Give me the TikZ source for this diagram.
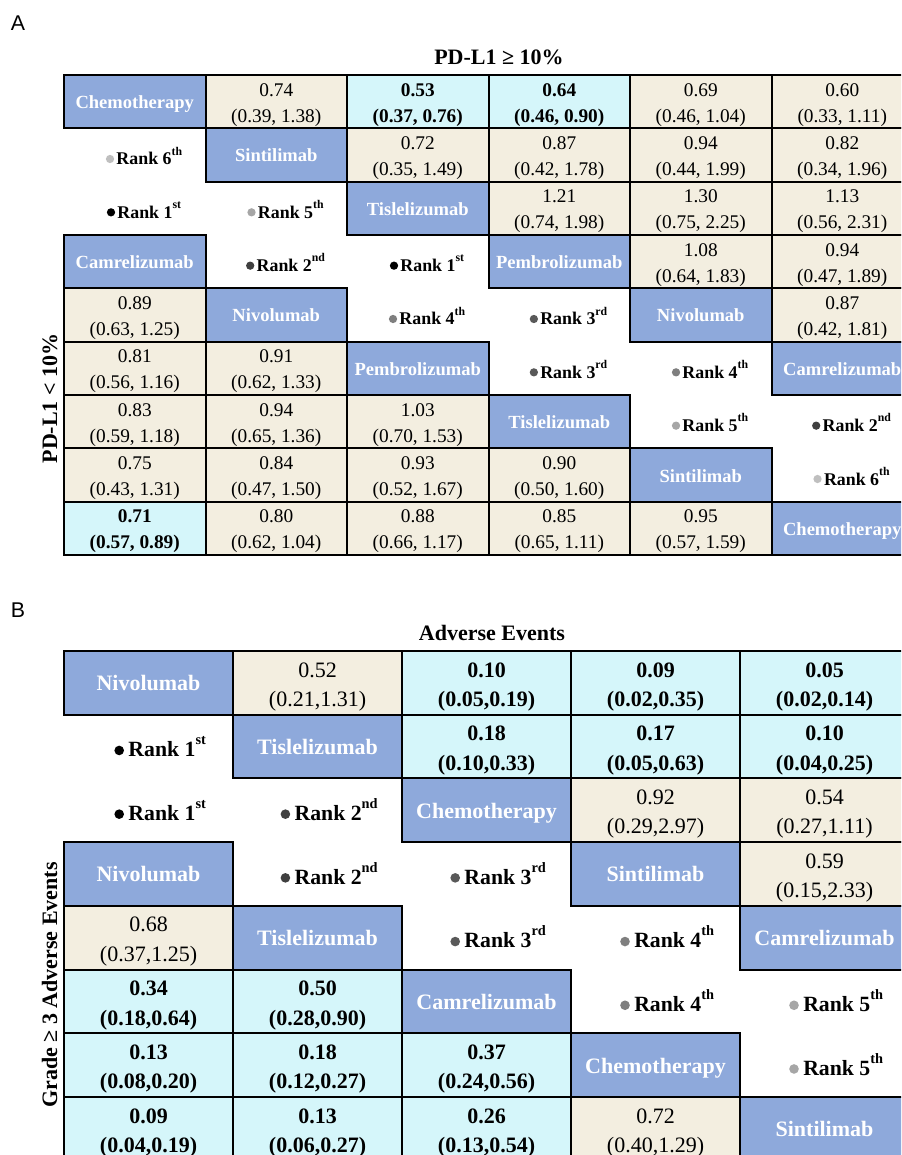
\documentclass[tikz,border=0pt]{standalone}
\usepackage{graphicx}
\usepackage{fontspec}
\setmainfont{Liberation Serif}
\newfontfamily\sansA{Liberation Sans}
\definecolor{nblue}{HTML}{8EA9DB}
\definecolor{nbeige}{HTML}{F3EEE0}
\definecolor{ncyan}{HTML}{D5F6FA}
\definecolor{rk1}{HTML}{000000}
\definecolor{rk2}{HTML}{404040}
\definecolor{rk3}{HTML}{595959}
\definecolor{rk4}{HTML}{7F7F7F}
\definecolor{rk5}{HTML}{A6A6A6}
\definecolor{rk6}{HTML}{BFBFBF}
\newcommand\sups[1]{\raisebox{0.55em}{\scalebox{0.66}{#1}}}
\newcommand\AC[4]{\node[#3] (a-#1-#2) at ({64+141.5*(#2-0.5)},{75+53.333*(#1-0.5)}) {};
  \node[#3t] (ta-#1-#2) at (a-#1-#2.center) {#4};}
\newcommand\BC[4]{\node[#3] (b-#1-#2) at ({64+169*(#2-0.5)},{651+63.7*(#1-0.5)}) {};
  \node[#3t] (tb-#1-#2) at (b-#1-#2.center) {#4};}
\newcommand\AR[4]{\node[rankA] (a-#1-#2) at ({64+141.5*(#2-0.5)},{75+53.333*(#1-0.5)}) {};
  \node[rankAt] (ta-#1-#2) at (a-#1-#2.center) {Rank #3\sups{#4}};
  \fill[rk#3] ([shift={(-6.2,-6)}]ta-#1-#2.base west) circle (3.1pt);}
\newcommand\BR[4]{\node[rankB] (b-#1-#2) at ({64+169*(#2-0.5)},{651+63.7*(#1-0.5)}) {};
  \node[rankBt] (tb-#1-#2) at (b-#1-#2.center) {Rank #3\sups{#4}};
  \fill[rk#3] ([shift={(-9,-6.3)}]tb-#1-#2.base west) circle (3.6pt);}
\tikzset{
 boxA/.style={minimum width=106.125pt, minimum height=40pt, inner sep=0pt, outer sep=0pt, line width=1.5pt},
 boxB/.style={minimum width=126.75pt, minimum height=47.775pt, inner sep=0pt, outer sep=0pt, line width=1.5pt},
 nameA/.style={boxA, fill=nblue, draw=black},
 numA/.style={boxA, fill=nbeige, draw=black},
 sigA/.style={boxA, fill=ncyan, draw=black},
 rankA/.style={boxA},
 nameAt/.style={anchor=base, yshift=-5.25pt, text=white, font=\fontsize{13.9}{16}\selectfont\bfseries},
 numAt/.style={align=center, inner sep=0pt, yshift=-2.25pt, font=\fontsize{14.5}{19.5}\selectfont},
 sigAt/.style={align=center, inner sep=0pt, yshift=-2.25pt, font=\fontsize{14.5}{19.5}\selectfont\bfseries},
 rankAt/.style={anchor=base, inner sep=0pt, yshift=-7.5pt, xshift=10.9pt, font=\fontsize{13.4}{16}\selectfont\bfseries},
 nameB/.style={boxB, fill=nblue, draw=black},
 numB/.style={boxB, fill=nbeige, draw=black},
 sigB/.style={boxB, fill=ncyan, draw=black},
 rankB/.style={boxB},
 nameBt/.style={anchor=base, yshift=-6pt, text=white, font=\fontsize{16.5}{19}\selectfont\bfseries},
 numBt/.style={align=center, inner sep=0pt, yshift=-3pt, font=\fontsize{16.5}{22}\selectfont},
 sigBt/.style={align=center, inner sep=0pt, yshift=-3pt, font=\fontsize{16.5}{22}\selectfont\bfseries},
 rankBt/.style={anchor=base, inner sep=0pt, yshift=-7.65pt, xshift=14pt, font=\fontsize{16.3}{19}\selectfont\bfseries},
 ttl/.style={anchor=base, inner sep=0pt, font=\fontsize{16.5}{20}\selectfont\bfseries},
 panel/.style={font=\sansA\fontsize{16}{18}\selectfont}
}
\begin{document}
\begin{tikzpicture}[x=0.75pt,y=-0.75pt]
\useasboundingbox (0,0) rectangle (901,1155);
\fill[white] (0,0) rectangle (901,1155);
\clip (0,0) rectangle (901,1155);
% ---------- Panel A ----------
\node[panel] (labA) at (18,23) {A};
\node[ttl] (titleA) at (499,65) {PD-L1 ≥ 10\%};
\node[ttl, rotate=90] (sideA) at (57,398.5) {PD-L1 < 10\%};
% row 1
\AC{1}{1}{nameA}{Chemotherapy}
\AC{1}{2}{numA}{0.74\\(0.39, 1.38)}
\AC{1}{3}{sigA}{0.53\\(0.37, 0.76)}
\AC{1}{4}{sigA}{0.64\\(0.46, 0.90)}
\AC{1}{5}{numA}{0.69\\(0.46, 1.04)}
\AC{1}{6}{numA}{0.60\\(0.33, 1.11)}
% row 2
\AR{2}{1}{6}{th}
\AC{2}{2}{nameA}{Sintilimab}
\AC{2}{3}{numA}{0.72\\(0.35, 1.49)}
\AC{2}{4}{numA}{0.87\\(0.42, 1.78)}
\AC{2}{5}{numA}{0.94\\(0.44, 1.99)}
\AC{2}{6}{numA}{0.82\\(0.34, 1.96)}
% row 3
\AR{3}{1}{1}{st}
\AR{3}{2}{5}{th}
\AC{3}{3}{nameA}{Tislelizumab}
\AC{3}{4}{numA}{1.21\\(0.74, 1.98)}
\AC{3}{5}{numA}{1.30\\(0.75, 2.25)}
\AC{3}{6}{numA}{1.13\\(0.56, 2.31)}
% row 4
\AC{4}{1}{nameA}{Camrelizumab}
\AR{4}{2}{2}{nd}
\AR{4}{3}{1}{st}
\AC{4}{4}{nameA}{Pembrolizumab}
\AC{4}{5}{numA}{1.08\\(0.64, 1.83)}
\AC{4}{6}{numA}{0.94\\(0.47, 1.89)}
% row 5
\AC{5}{1}{numA}{0.89\\(0.63, 1.25)}
\AC{5}{2}{nameA}{Nivolumab}
\AR{5}{3}{4}{th}
\AR{5}{4}{3}{rd}
\AC{5}{5}{nameA}{Nivolumab}
\AC{5}{6}{numA}{0.87\\(0.42, 1.81)}
% row 6
\AC{6}{1}{numA}{0.81\\(0.56, 1.16)}
\AC{6}{2}{numA}{0.91\\(0.62, 1.33)}
\AC{6}{3}{nameA}{Pembrolizumab}
\AR{6}{4}{3}{rd}
\AR{6}{5}{4}{th}
\AC{6}{6}{nameA}{Camrelizumab}
% row 7
\AC{7}{1}{numA}{0.83\\(0.59, 1.18)}
\AC{7}{2}{numA}{0.94\\(0.65, 1.36)}
\AC{7}{3}{numA}{1.03\\(0.70, 1.53)}
\AC{7}{4}{nameA}{Tislelizumab}
\AR{7}{5}{5}{th}
\AR{7}{6}{2}{nd}
% row 8
\AC{8}{1}{numA}{0.75\\(0.43, 1.31)}
\AC{8}{2}{numA}{0.84\\(0.47, 1.50)}
\AC{8}{3}{numA}{0.93\\(0.52, 1.67)}
\AC{8}{4}{numA}{0.90\\(0.50, 1.60)}
\AC{8}{5}{nameA}{Sintilimab}
\AR{8}{6}{6}{th}
% row 9
\AC{9}{1}{sigA}{0.71\\(0.57, 0.89)}
\AC{9}{2}{numA}{0.80\\(0.62, 1.04)}
\AC{9}{3}{numA}{0.88\\(0.66, 1.17)}
\AC{9}{4}{numA}{0.85\\(0.65, 1.11)}
\AC{9}{5}{numA}{0.95\\(0.57, 1.59)}
\AC{9}{6}{nameA}{Chemotherapy}
% ---------- Panel B ----------
\node[panel] (labB) at (18,610) {B};
\node[ttl] (titleB) at (492,640) {Adverse Events};
\node[ttl, rotate=90] (sideB) at (57,985) {Grade ≥ 3 Adverse Events};
% row 1
\BC{1}{1}{nameB}{Nivolumab}
\BC{1}{2}{numB}{0.52\\(0.21,1.31)}
\BC{1}{3}{sigB}{0.10\\(0.05,0.19)}
\BC{1}{4}{sigB}{0.09\\(0.02,0.35)}
\BC{1}{5}{sigB}{0.05\\(0.02,0.14)}
% row 2
\BR{2}{1}{1}{st}
\BC{2}{2}{nameB}{Tislelizumab}
\BC{2}{3}{sigB}{0.18\\(0.10,0.33)}
\BC{2}{4}{sigB}{0.17\\(0.05,0.63)}
\BC{2}{5}{sigB}{0.10\\(0.04,0.25)}
% row 3
\BR{3}{1}{1}{st}
\BR{3}{2}{2}{nd}
\BC{3}{3}{nameB}{Chemotherapy}
\BC{3}{4}{numB}{0.92\\(0.29,2.97)}
\BC{3}{5}{numB}{0.54\\(0.27,1.11)}
% row 4
\BC{4}{1}{nameB}{Nivolumab}
\BR{4}{2}{2}{nd}
\BR{4}{3}{3}{rd}
\BC{4}{4}{nameB}{Sintilimab}
\BC{4}{5}{numB}{0.59\\(0.15,2.33)}
% row 5
\BC{5}{1}{numB}{0.68\\(0.37,1.25)}
\BC{5}{2}{nameB}{Tislelizumab}
\BR{5}{3}{3}{rd}
\BR{5}{4}{4}{th}
\BC{5}{5}{nameB}{Camrelizumab}
% row 6
\BC{6}{1}{sigB}{0.34\\(0.18,0.64)}
\BC{6}{2}{sigB}{0.50\\(0.28,0.90)}
\BC{6}{3}{nameB}{Camrelizumab}
\BR{6}{4}{4}{th}
\BR{6}{5}{5}{th}
% row 7
\BC{7}{1}{sigB}{0.13\\(0.08,0.20)}
\BC{7}{2}{sigB}{0.18\\(0.12,0.27)}
\BC{7}{3}{sigB}{0.37\\(0.24,0.56)}
\BC{7}{4}{nameB}{Chemotherapy}
\BR{7}{5}{5}{th}
% row 8
\BC{8}{1}{sigB}{0.09\\(0.04,0.19)}
\BC{8}{2}{sigB}{0.13\\(0.06,0.27)}
\BC{8}{3}{sigB}{0.26\\(0.13,0.54)}
\BC{8}{4}{numB}{0.72\\(0.40,1.29)}
\BC{8}{5}{nameB}{Sintilimab}
\end{tikzpicture}
\end{document}
